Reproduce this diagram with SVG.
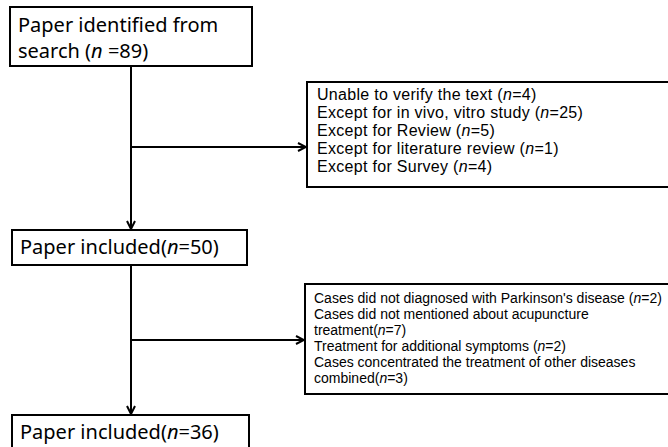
<svg xmlns="http://www.w3.org/2000/svg" width="668" height="447" viewBox="0 0 668 447">
<style>
.box{fill:#fff;stroke:#000;stroke-width:2}
.big{font-family:"Noto Sans","Open Sans",sans-serif;font-size:20px;fill:#000}
.mid{font-family:"Liberation Sans","Arial",sans-serif;font-size:16px;letter-spacing:0.3px;fill:#000}
.sm{font-family:"Liberation Sans","Arial",sans-serif;font-size:14px;fill:#000}
.ln{stroke:#000;stroke-width:2;fill:none}
.it{font-style:italic}
</style>
<defs>
<marker id="ah" viewBox="0 0 10 10" refX="9" refY="5" markerWidth="5" markerHeight="5" orient="auto" markerUnits="strokeWidth">
<path d="M1,1 L9,5 L1,9" fill="none" stroke="#000" stroke-width="2"/>
</marker>
</defs>
<g id="connectors">
<line class="ln" x1="131" y1="66" x2="131" y2="229" marker-end="url(#ah)"/>
<line class="ln" x1="131" y1="147" x2="306" y2="147" marker-end="url(#ah)"/>
<line class="ln" x1="131" y1="265" x2="131" y2="414" marker-end="url(#ah)"/>
<line class="ln" x1="131" y1="340" x2="304" y2="340" marker-end="url(#ah)"/>
</g>
<g id="n1">
<rect class="box" x="10" y="7" width="242" height="59"/>
<text class="big"><tspan x="18" y="32">Paper identified from</tspan><tspan x="18" y="58">search (<tspan class="it">n</tspan> =89)</tspan></text>
</g>
<g id="n2">
<rect class="box" x="307" y="82" width="365" height="105"/>
<text class="mid"><tspan x="317" y="100">Unable to verify the text (<tspan class="it">n</tspan>=4)</tspan><tspan x="317" y="118">Except for in vivo, vitro study (<tspan class="it">n</tspan>=25)</tspan><tspan x="317" y="136">Except for Review (<tspan class="it">n</tspan>=5)</tspan><tspan x="317" y="154">Except for literature review (<tspan class="it">n</tspan>=1)</tspan><tspan x="317" y="172">Except for Survey (<tspan class="it">n</tspan>=4)</tspan></text>
</g>
<g id="n3">
<rect class="box" x="12" y="230" width="235" height="35"/>
<text class="big" x="20" y="254">Paper included(<tspan class="it">n</tspan>=50)</text>
</g>
<g id="n4">
<rect class="box" x="305" y="284" width="367" height="110"/>
<text class="sm"><tspan x="314" y="303">Cases did not diagnosed with Parkinson's disease (<tspan class="it">n</tspan>=2)</tspan><tspan x="314" y="319">Cases did not mentioned about acupuncture</tspan><tspan x="314" y="335">treatment(<tspan class="it">n</tspan>=7)</tspan><tspan x="314" y="351">Treatment for additional symptoms (<tspan class="it">n</tspan>=2)</tspan><tspan x="314" y="367">Cases concentrated the treatment of other diseases</tspan><tspan x="314" y="383">combined(<tspan class="it">n</tspan>=3)</tspan></text>
</g>
<g id="n5">
<rect class="box" x="12" y="415" width="237" height="40"/>
<text class="big" x="20" y="439">Paper included(<tspan class="it">n</tspan>=36)</text>
</g>
</svg>
